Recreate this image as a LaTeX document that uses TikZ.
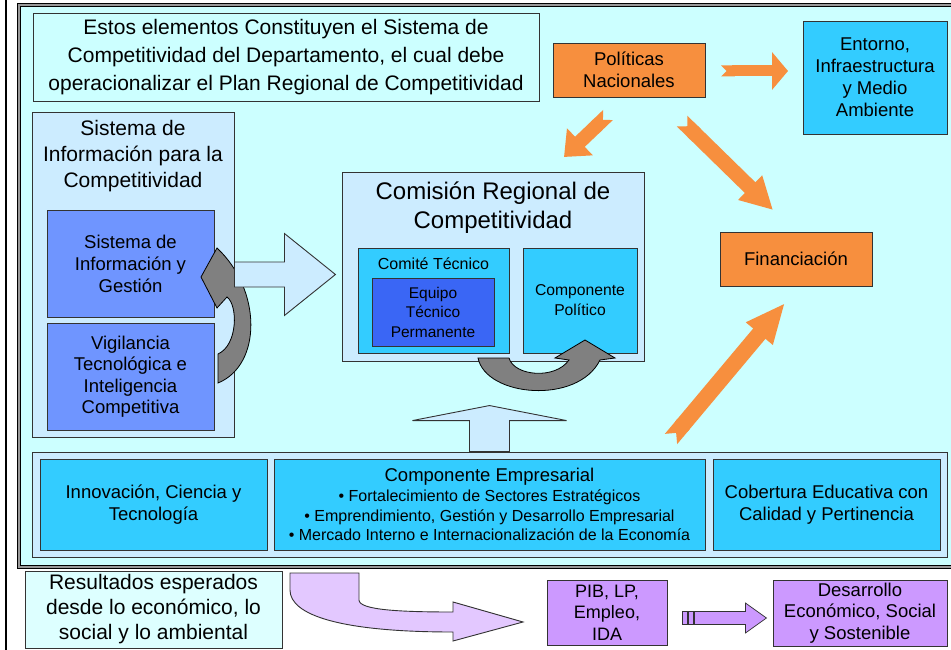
\documentclass[tikz,border=0pt]{standalone}
\usepackage{fontspec}
\setmainfont{Liberation Sans}
\usetikzlibrary{positioning,arrows.meta,calc}
\definecolor{panel}{HTML}{CCFFFF}
\definecolor{pale}{HTML}{CCECFF}
\definecolor{sky}{HTML}{33CCFF}
\definecolor{periw}{HTML}{6F95FF}
\definecolor{royal}{HTML}{3A66F5}
\definecolor{orng}{HTML}{F78F3E}
\definecolor{lilac}{HTML}{CC99FF}
\definecolor{lav}{HTML}{E3C8FF}
\definecolor{edge}{HTML}{333333}
\definecolor{stone}{HTML}{808080}
\definecolor{frost}{HTML}{DDFFFF}
\newcommand{\fsz}[2]{\fontsize{#1}{#2}\selectfont}
\tikzset{
  box/.style={draw=edge,fill=#1,line width=0.9pt,align=center,inner sep=2pt},
  box/.default=sky,
  plain/.style={align=center,inner sep=0pt},
  hollow/.style={draw=edge,fill=pale,line width=0.9pt},
  turnarrow/.style={draw=black,fill=stone,line width=0.8pt},
}

\begin{document}
\begin{tikzpicture}[x=1pt,y=-1pt]
  \useasboundingbox (0,0) rectangle (951,650);
  \fill[white] (0,0) rectangle (951,650);
  \draw[line width=2pt] (6,0) -- (6,650);
  % main frame
  \draw[black,line width=0.8pt,double=gray!80,double distance=2.2pt,fill=panel]
    (19,5) rectangle (960,567);

  \node[box=panel,minimum width=506pt,minimum height=88pt,font=\fsz{21}{28}] (intro) at (286,57)
    {Estos elementos Constituyen el Sistema de\\Competitividad del Departamento, el cual debe\\operacionalizar el Plan Regional de Competitividad};
  \node[box=orng,minimum width=152pt,minimum height=54pt,font=\fsz{18.5}{22.5}] (pol) at (629,70)
    {Políticas\\Nacionales};
  \node[box,minimum width=144pt,minimum height=113pt,font=\fsz{18.5}{22}] (ent) at (875,77.5)
    {Entorno,\\Infraestructura\\y Medio\\Ambiente};
  \node[box=orng,minimum width=152pt,minimum height=54pt,font=\fsz{18.5}{22}] (fin) at (796,259)
    {Financiación};

  % sistema de informacion
  \node[box=pale,minimum width=202pt,minimum height=325pt] (sic) at (133,274.5) {};
  \node[plain,font=\fsz{21}{26}] (sictitle) at (133,156)
    {Sistema de\\Información para la\\Competitividad};
  \node[box=periw,minimum width=167pt,minimum height=107pt,font=\fsz{18.5}{22}] (sig) at (130.5,263.5)
    {Sistema de\\Información y\\Gestión};
  \node[box=periw,minimum width=167pt,minimum height=107pt,font=\fsz{18.5}{21.5}] (vig) at (130.5,376.5)
    {Vigilancia\\Tecnológica e\\Inteligencia\\Competitiva};
  \path[turnarrow] (201,277) -- (217,248)
    .. controls (262,290) and (262,365) .. (218,383) -- (218,354)
    .. controls (238,345) and (238,305) .. (227,297) -- (217,308) -- cycle;
  \filldraw[hollow] (sic.east) ++(0,-12.5) -- ++(50,0) -- ++(0,-28.5) -- ++(51,41)
    -- ++(-51,41) -- ++(0,-28.5) -- ++(-50,0) -- cycle;

  % comision regional
  \node[box=pale,minimum width=302pt,minimum height=189pt] (crc) at (493,266.5) {};
  \node[plain,font=\fsz{24}{29}] (crctitle) at (493,208) {Comisión Regional de\\Competitividad};
  \node[box,minimum width=151pt,minimum height=105pt] (ct) at (433.5,300.5) {};
  \node[plain,font=\fsz{16}{18}] (cttitle) at (433.5,264) {Comité Técnico};
  \node[box=royal,minimum width=122pt,minimum height=68pt,font=\fsz{15.5}{19.5}] (etp) at (433,312)
    {Equipo\\Técnico\\Permanente};
  \node[box,minimum width=114pt,minimum height=105pt,font=\fsz{15.7}{20}] (cp) at (580,300.5)
    {Componente\\Político};
  \path[turnarrow] (478,358) .. controls (486,397) and (578,405) .. (600,360) -- (615,358)
    -- (585,340) -- (555,358) -- (569,360) .. controls (555,380) and (514,376) .. (509,358) -- cycle;

  % base
  \node[box=pale,minimum width=915pt,minimum height=105pt] (base) at (489.5,504.5) {};
  \node[box,minimum width=227pt,minimum height=91pt,font=\fsz{18.5}{22}] (ict) at (153.5,504.5)
    {Innovación, Ciencia y\\Tecnología};
  \node[box,minimum width=431pt,minimum height=91pt,font=\fsz{16}{19.5}] (ce) at (489.5,504.5)
    {{\fsz{18.5}{21}Componente Empresarial}\\[1pt]
     • Fortalecimiento de Sectores Estratégicos\\
     • Emprendimiento, Gestión y Desarrollo Empresarial\\
     • Mercado Interno e Internacionalización de la Economía};
  \node[box,minimum width=227pt,minimum height=91pt,font=\fsz{18.5}{22}] (cob) at (826.5,504.5)
    {Cobertura Educativa con\\Calidad y Pertinencia};
  \filldraw[hollow] (base.north) ++(-20,0) -- ++(0,-31) -- ++(-57,0) -- ++(77,-15)
    -- ++(77,15) -- ++(-57,0) -- ++(0,31) -- cycle;

  % orange arrows
  \coordinate (a1) at (721,71);  \coordinate (b1) at (788,71);
  \coordinate (a2) at (608,115); \coordinate (b2) at (564,157);
  \coordinate (a3) at (682,121); \coordinate (b3) at (773,210);
  \coordinate (a4) at (671,439); \coordinate (b4) at (785,303);
  \foreach \i/\w/\hl/\hw in {1/11/16/37, 2/14/22/36, 3/15/32/32, 4/16/40/32}{
    \draw[orng,line width=\w pt,{Triangle Cap[reversed]}-{Triangle[length=\hl pt,width=\hw pt]}]
      (a\i) -- (b\i);
  }

  % resultados
  \node[box=frost,minimum width=257pt,minimum height=77pt,font=\fsz{21}{25}] (res) at (153.5,609.5)
    {Resultados esperados\\desde lo económico, lo\\social y lo ambiental};
  \node[box=lilac,minimum width=120pt,minimum height=65pt,font=\fsz{18}{21.5}] (pib) at (607,612.5)
    {PIB, LP,\\Empleo,\\IDA};
  \node[box=lilac,minimum width=174pt,minimum height=66pt,font=\fsz{18.5}{21.5}] (des) at (860,613)
    {Desarrollo\\Económico, Social\\y Sostenible};
  \path[draw=edge,fill=lav,line width=0.9pt] (290,573) -- (359,573) -- (359,600)
    .. controls (359,610) and (400,612) .. (453,612) -- (453,602) -- (523,622) -- (453,641)
    -- (453,632) .. controls (340,632) and (290,615) .. (290,590) -- cycle;
  \coordinate (s0) at ($(pib.east)+(15,5.5)$);
  \filldraw[draw=edge,fill=lilac,line width=0.7pt] (s0) ++(0,-6.5) rectangle ++(5,13);
  \filldraw[draw=edge,fill=lilac,line width=0.7pt] ($(s0)+(6,-6.5)$) rectangle ++(5,13);
  \filldraw[draw=edge,fill=lilac,line width=0.7pt] ($(s0)+(12,-6.5)$) -- ++(51,0) -- ++(0,-8.5)
    -- ++(21,15) -- ++(-21,15) -- ++(0,-8.5) -- ++(-51,0) -- cycle;
\end{tikzpicture}
\end{document}
